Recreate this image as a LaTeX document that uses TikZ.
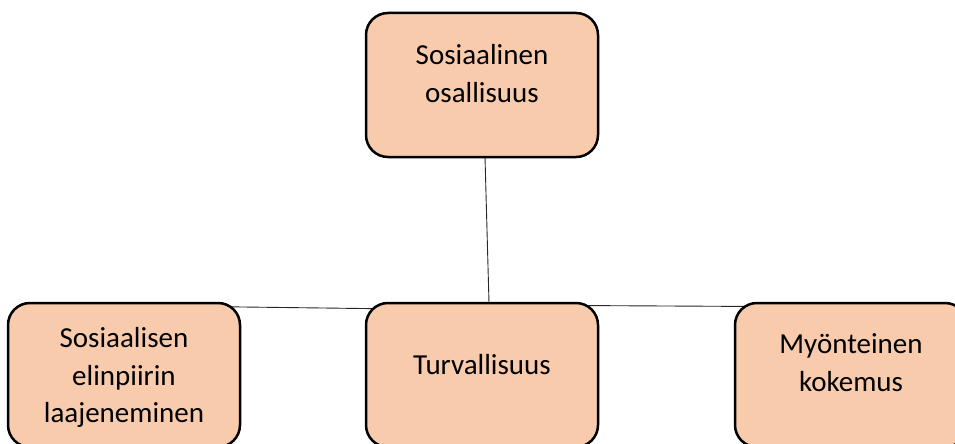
\documentclass[tikz,border=0pt]{standalone}
\usepackage{fontspec}
\setmainfont{Carlito}
\usetikzlibrary{positioning,backgrounds}
\definecolor{boxfill}{HTML}{F8CBAD}
\tikzset{
  topic/.style   = {rectangle,draw,line width=2.5pt,rounded corners=22pt,fill=boxfill,minimum width=232pt,minimum height=144pt,inner sep=0pt,outer sep=0pt},
  caption/.style = {align=center,font=\fontsize{29}{37.5}\selectfont},
  link/.style    = {line width=0.9pt,black!85},
}
\begin{document}
\begin{tikzpicture}[x=1pt,y=-1pt]
\path[use as bounding box,clip] (0,0) rectangle (955,444);
% boxes
\node[topic] (osallisuus) at (482,85) {};
\node[topic] (turva)  [below=146pt of osallisuus] {};
\node[topic] (elinpiiri) [left=126pt of turva] {};
\node[topic] (kokemus) [right=137pt of turva] {};
% texts
\node[caption] (osallisuus-txt) at ([yshift=11.5pt]osallisuus.center) {Sosiaalinen\\osallisuus};
\node[caption] (turva-txt) at ([yshift=10pt]turva.center) {Turvallisuus};
\node[caption] (elinpiiri-txt) at ([yshift=-2.5pt]elinpiiri.center) {Sosiaalisen\\elinpiirin\\laajeneminen};
\node[caption] (kokemus-txt) at ([yshift=12.5pt]kokemus.center) {Myönteinen\\kokemus};
% connecting lines behind the boxes
\begin{scope}[on background layer]
\draw[link] ([xshift=3pt]osallisuus.south) -- ([xshift=7pt]turva.north);
\draw[link] ([yshift=-2.5pt]elinpiiri.north) -- ([yshift=-7pt]turva.north);
\draw[link] ([yshift=-2pt]turva.north) -- ([yshift=-4pt]kokemus.north);
\end{scope}
\end{tikzpicture}
\end{document}
